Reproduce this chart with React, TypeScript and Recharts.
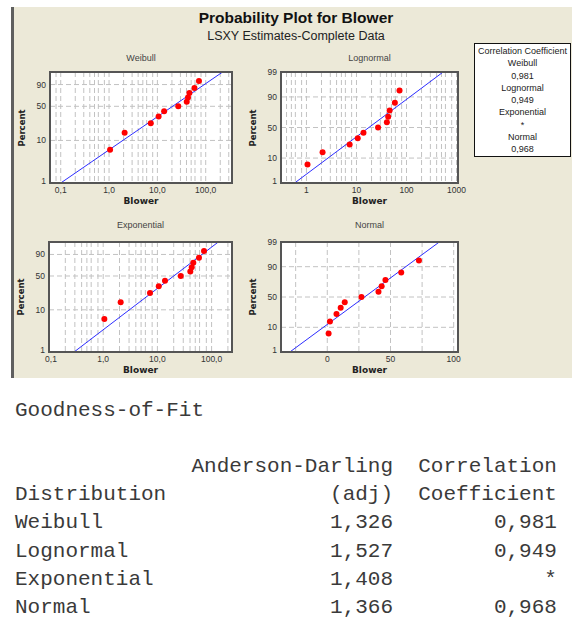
import React from "react";
import { ScatterChart, Scatter, XAxis, YAxis, CartesianGrid } from "recharts";

// Blower data and plotting positions (%)
const blower = [1.05, 2.1, 7.3, 10.6, 13.8, 27, 40.5, 43, 46, 58.5, 72.5];
const percent = [6.1, 14.9, 23.7, 32.5, 41.2, 50, 58.8, 67.5, 76.3, 85.1, 93.9];

// fitted lines, end points (x, percent)
const weibullFit = [{ x: 0.1, p: 1 }, { x: 224, p: 99 }];
const lognormalFit = [{ x: 0.58, p: 1 }, { x: 540, p: 99 }];
const exponentialFit = [{ x: 0.29, p: 1 }, { x: 133, p: 99 }];
const normalFit = [{ x: -29.6, p: 1 }, { x: 88.6, p: 99 }];

// ticks
const percentTicks = [1, 10, 50, 90, 99];
const weibullYLabels = ["1", "10", "50", "90", ""];
const normalYLabels = ["1", "10", "50", "90", "99"];
const logMinor = [2, 3, 4, 5, 6, 8];
const commaMajors = [0.1, 1, 10, 100];
const commaLabels = ["0,1", "1,0", "10,0", "100,0"];
const lognormalMajors = [1, 10, 100, 1000];
const lognormalLabels = ["1", "10", "100", "1000"];
const normalXTicks = [-25, 0, 25, 50, 75, 100];
const normalXLabels = ["", "0", "", "50", "", "100"];

// goodness-of-fit table
const distributions = ["Weibull", "Lognormal", "Exponential", "Normal"];
const adValues = ["1,326", "1,527", "1,408", "1,366"];
const corrValues = ["0,981", "0,949", "*", "0,968"];

// inverse standard normal (Acklam)
function probit(p: number): number {
  const a = [-39.69683028665376, 220.9460984245205, -275.9285104469687, 138.357751867269, -30.66479806614716, 2.506628277459239];
  const b = [-54.47609879822406, 161.5858368580409, -155.6989798598866, 66.80131188771972, -13.28068155288572];
  const c = [-0.007784894002430293, -0.3223964580411365, -2.400758277161838, -2.549732539343734, 4.374664141464968, 2.938163982698783];
  const d = [0.007784695709041462, 0.3224671290700398, 2.445134137142996, 3.754408661907416];
  const pl = 0.02425;
  if (p < pl) {
    const q = Math.sqrt(-2 * Math.log(p));
    return (((((c[0] * q + c[1]) * q + c[2]) * q + c[3]) * q + c[4]) * q + c[5]) /
      ((((d[0] * q + d[1]) * q + d[2]) * q + d[3]) * q + 1);
  }
  if (p > 1 - pl) {
    const q = Math.sqrt(-2 * Math.log(1 - p));
    return -(((((c[0] * q + c[1]) * q + c[2]) * q + c[3]) * q + c[4]) * q + c[5]) /
      ((((d[0] * q + d[1]) * q + d[2]) * q + d[3]) * q + 1);
  }
  const q = p - 0.5;
  const r = q * q;
  return ((((((a[0] * r + a[1]) * r + a[2]) * r + a[3]) * r + a[4]) * r + a[5]) * q) /
    (((((b[0] * r + b[1]) * r + b[2]) * r + b[3]) * r + b[4]) * r + 1);
}

const normScale = (p: number) => probit(p / 100);
const sevScale = (p: number) => Math.log(-Math.log(1 - p / 100));

function logTicks(domain: number[]) {
  const out: number[] = [];
  const k0 = Math.floor(Math.log10(domain[0]));
  const k1 = Math.ceil(Math.log10(domain[1]));
  for (let k = k0; k <= k1; k++) {
    for (const m of [1, ...logMinor]) {
      const v = k < 0 ? m / Math.pow(10, -k) : m * Math.pow(10, k);
      if (v >= domain[0] * 0.999 && v <= domain[1] * 1.001) out.push(v);
    }
  }
  return out;
}

const labelFrom = (values: number[], labels: string[]) => (v: number) => {
  const i = values.findIndex((t) => Math.abs(t - v) <= Math.abs(t) * 1e-6 + 1e-9);
  return i >= 0 ? labels[i] : "";
};

const TICK_FONT = { fontSize: 8.5, fill: "#333", fontFamily: "Liberation Sans" };

type Frame = { x: number; y: number; w: number; h: number };

type PanelProps = {
  title: string;
  titleY: number;
  frame: Frame;
  log: boolean;
  xDomain: number[];
  xTicks: number[];
  xFormat: (v: number) => string;
  yTf: (p: number) => number;
  yLabels: string[];
  fit: { x: number; p: number }[];
};

function Panel({ title, titleY, frame, log, xDomain, xTicks, xFormat, yTf, yLabels, fit }: PanelProps) {
  const { x, y, w, h } = frame;
  const padL = 40;
  const padT = 10;
  const padR = 10;
  const padB = 25;
  const points = blower.map((b, i) => ({ x: b, y: yTf(percent[i]) }));
  const line = fit.map((f) => ({ x: f.x, y: yTf(f.p) }));
  const yTicks = percentTicks.map(yTf);
  const yFormat = labelFrom(yTicks, yLabels);
  const yMin = yTf(1);

  // y tick: the bottom label sits a little higher so it clears the x labels
  const YTick = (props: any) => {
    const v = props.payload.value;
    const bottom = Math.abs(v - yMin) < 1e-9;
    return (
      <text
        x={props.x}
        y={props.y}
        dy={bottom ? "0.1em" : "0.355em"}
        textAnchor="end"
        {...TICK_FONT}
      >
        {yFormat(v)}
      </text>
    );
  };

  // x tick: the label at the left edge is nudged right
  const XTick = (props: any) => {
    const v = props.payload.value;
    const edge = Math.abs(v - xDomain[0]) <= Math.abs(v) * 1e-6;
    return (
      <text x={props.x} y={props.y} dx={edge ? 2 : 0} dy="0.71em" textAnchor="middle" {...TICK_FONT}>
        {xFormat(v)}
      </text>
    );
  };

  return (
    <>
      <div
        style={{
          position: "absolute",
          left: x + w / 2 - 60,
          top: titleY - 6,
          width: 120,
          textAlign: "center",
          fontFamily: "Liberation Sans",
          fontSize: 9,
          lineHeight: "12px",
          color: "#444",
        }}
      >
        {title}
      </div>
      <div style={{ position: "absolute", left: x - padL, top: y - padT }}>
        <ScatterChart
          width={w + padL + padR}
          height={h + padT + padB}
          margin={{ top: padT, right: padR, bottom: 0, left: 0 }}
        >
          <CartesianGrid stroke="#c2c2c2" strokeDasharray="5 3" fill="#ffffff" />
          <XAxis
            type="number"
            dataKey="x"
            scale={log ? "log" : "linear"}
            domain={xDomain}
            ticks={xTicks}
            interval={0}
            allowDataOverflow
            tickLine={false}
            axisLine={false}
            tickSize={2}
            tickMargin={2}
            height={padB}
            tick={<XTick />}
          />
          <YAxis
            type="number"
            dataKey="y"
            domain={[yTf(1), yTf(99)]}
            ticks={yTicks}
            interval={0}
            allowDataOverflow
            tickLine={false}
            axisLine={false}
            tickSize={2}
            tickMargin={2}
            width={padL}
            tick={<YTick />}
          />
          <Scatter
            data={line}
            line={{ stroke: "#2d2dff", strokeWidth: 1 }}
            shape={() => <g />}
            isAnimationActive={false}
          />
          <Scatter
            data={points}
            fill="#ff0000"
            shape={(p: any) => <circle cx={p.cx} cy={p.cy} r={3} fill="#ff0000" />}
            isAnimationActive={false}
          />
        </ScatterChart>
      </div>
      <div
        style={{
          position: "absolute",
          left: x - 1,
          top: y - 1,
          width: w + 2,
          height: h + 2,
          boxSizing: "border-box",
          border: "2px solid #555",
          pointerEvents: "none",
        }}
      />
      <div
        style={{
          position: "absolute",
          left: x - 28 - 40,
          top: y + h / 2 - 7,
          width: 80,
          textAlign: "center",
          transform: "rotate(-90deg)",
          fontFamily: "DejaVu Sans",
          fontWeight: "bold",
          fontSize: 8.5,
          lineHeight: "14px",
          color: "#222",
        }}
      >
        Percent
      </div>
      <div
        style={{
          position: "absolute",
          left: x + w / 2 - 40,
          top: y + h + 11,
          width: 80,
          textAlign: "center",
          fontFamily: "DejaVu Sans",
          fontWeight: "bold",
          fontSize: 9,
          lineHeight: "14px",
          color: "#222",
        }}
      >
        Blower
      </div>
    </>
  );
}

export default function App() {
  const weibullDomain = [0.06, 350];
  const lognormalDomain = [0.31, 1070];
  const exponentialDomain = [0.1, 238];
  const normalDomain = [-36.6, 103.4];

  const legendRows = ["Correlation Coefficient"];
  distributions.forEach((d, i) => legendRows.push(d, corrValues[i]));

  const tableLines = [
    "Goodness-of-Fit",
    "",
    " ".repeat(14) + "Anderson-Darling" + "  " + "Correlation",
    "Distribution".padEnd(25) + "(adj)" + "  " + "Coefficient",
    ...distributions.map((d, i) => d.padEnd(25) + adValues[i] + "  " + corrValues[i].padStart(11)),
  ];

  return (
    <div
      style={{
        position: "absolute",
        left: 0,
        top: 0,
        width: 572,
        height: 618,
        background: "#ffffff",
        overflow: "hidden",
      }}
    >
      <div style={{ position: "absolute", left: 14, top: 7, width: 558, height: 371, background: "#ece9d8" }} />
      <div style={{ position: "absolute", left: 11, top: 7, width: 3, height: 371, background: "#5f5f5f" }} />

      <div
        style={{
          position: "absolute",
          left: 146,
          top: 9,
          width: 300,
          textAlign: "center",
          fontFamily: "Liberation Sans",
          fontWeight: "bold",
          fontSize: 15.5,
          lineHeight: "18px",
          color: "#111",
        }}
      >
        Probability Plot for Blower
      </div>
      <div
        style={{
          position: "absolute",
          left: 146,
          top: 28,
          width: 300,
          textAlign: "center",
          fontFamily: "Liberation Sans",
          fontSize: 12.5,
          lineHeight: "16px",
          color: "#222",
        }}
      >
        LSXY Estimates-Complete Data
      </div>

      <Panel
        title="Weibull"
        titleY={58}
        frame={{ x: 50, y: 72, w: 182, h: 111 }}
        log
        xDomain={weibullDomain}
        xTicks={logTicks(weibullDomain)}
        xFormat={labelFrom(commaMajors, commaLabels)}
        yTf={sevScale}
        yLabels={weibullYLabels}
        fit={weibullFit}
      />
      <Panel
        title="Lognormal"
        titleY={58}
        frame={{ x: 281, y: 72, w: 177, h: 111 }}
        log
        xDomain={lognormalDomain}
        xTicks={logTicks(lognormalDomain)}
        xFormat={labelFrom(lognormalMajors, lognormalLabels)}
        yTf={normScale}
        yLabels={normalYLabels}
        fit={lognormalFit}
      />
      <Panel
        title="Exponential"
        titleY={225}
        frame={{ x: 49, y: 242, w: 183, h: 110 }}
        log
        xDomain={exponentialDomain}
        xTicks={logTicks(exponentialDomain)}
        xFormat={labelFrom(commaMajors, commaLabels)}
        yTf={sevScale}
        yLabels={weibullYLabels}
        fit={exponentialFit}
      />
      <Panel
        title="Normal"
        titleY={225}
        frame={{ x: 281, y: 242, w: 177, h: 110 }}
        log={false}
        xDomain={normalDomain}
        xTicks={normalXTicks}
        xFormat={labelFrom(normalXTicks, normalXLabels)}
        yTf={normScale}
        yLabels={normalYLabels}
        fit={normalFit}
      />

      <div
        style={{
          position: "absolute",
          left: 474,
          top: 43,
          width: 97,
          height: 114,
          boxSizing: "border-box",
          border: "1px solid #111",
          background: "#ffffff",
          paddingTop: 1,
        }}
      >
        {legendRows.map((r, i) => (
          <div
            key={i}
            style={{
              textAlign: "center",
              fontFamily: "Liberation Sans",
              fontSize: 9,
              lineHeight: "12.3px",
              color: "#222",
              whiteSpace: "nowrap",
            }}
          >
            {r}
          </div>
        ))}
      </div>

      {tableLines.map((t, i) => (
        <div
          key={i}
          style={{
            position: "absolute",
            left: 15,
            top: 400 + i * 28.1,
            margin: 0,
            whiteSpace: "pre",
            fontFamily: "Liberation Mono",
            fontSize: 21,
            lineHeight: "22px",
            color: "#3a3a3a",
          }}
        >
          {t}
        </div>
      ))}
    </div>
  );
}
